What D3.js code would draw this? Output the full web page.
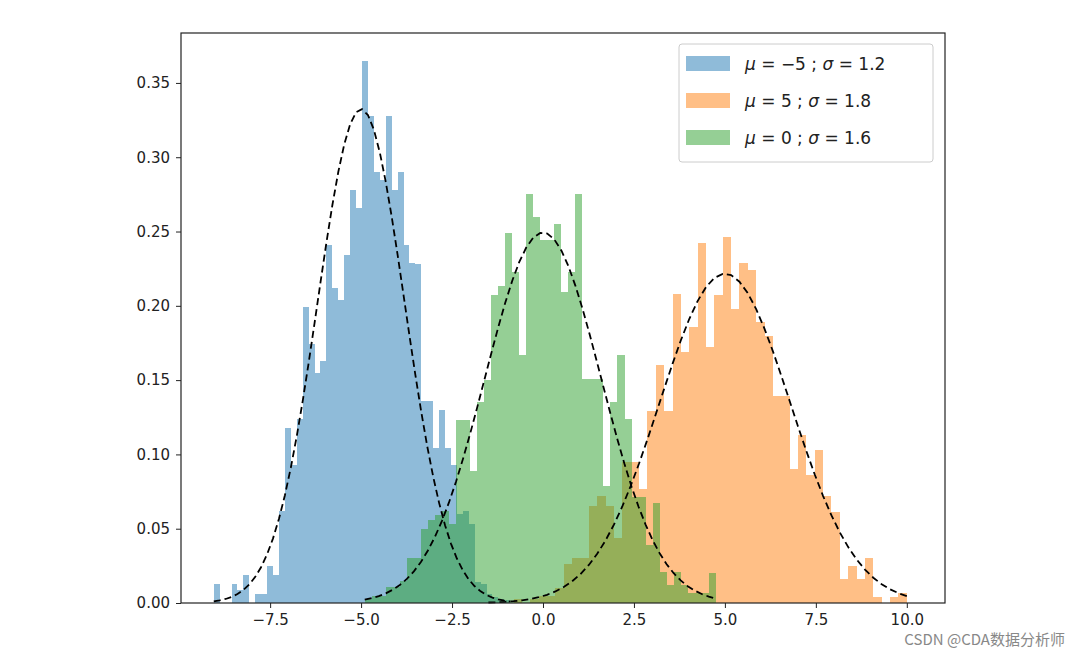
<!DOCTYPE html>
<html><head><meta charset="utf-8">
<script src="https://cdn.jsdelivr.net/npm/d3@7"></script>
<style>body{margin:0;background:#fff}</style>
</head><body>
<svg id="chart" width="1080" height="659"></svg>
<script>
// histogram densities
var blueStart=-9.05, blueWidth=0.163;
var blueVals=[.013,0,0,.013,.009,.019,0,.006,.006,.025,.019,.062,.118,.093,.124,.199,.174,.155,.163,.241,
  .212,.204,.234,.278,.266,.365,.328,.290,.285,.328,.278,.290,.241,.229,.228,.136,.136,.104,.13,.104,
  .093,.060,.062,.053,.014,.013,.006,.004,.003,.002];
var greenStart=-4.9, greenWidth=0.193;
var greenVals=[.003,.005,.005,.011,.011,.015,.030,.030,.05,.056,.059,.062,.053,.123,.123,.089,.135,.150,.207,.213,
  .249,.223,.167,.275,.260,.244,.244,.255,.209,.223,.275,.151,.151,.151,.079,.135,.167,.124,.071,.071,
  .039,.067,.021,.012,.021,.012,.007,.007,.007,.02];
var orangeStart=-1.5, orangeWidth=0.23;
var orangeVals=[0,0,0,.003,0,.003,.005,.005,.01,.026,.03,.03,.065,.072,.065,.044,.095,.095,.077,.129,
  .160,.129,.208,.169,.186,.242,.172,.207,.246,.198,.229,.224,.189,.18,.139,.139,.090,.113,.086,.103,
  .072,.061,.016,.025,.016,.030,.004,0,.004,.007];
var series=[
  {label:["−5","1.2"],mu:-5,sigma:1.2,start:blueStart,width:blueWidth,vals:blueVals,color:"#1f77b4"},
  {label:["5","1.8"],mu:5,sigma:1.8,start:orangeStart,width:orangeWidth,vals:orangeVals,color:"#ff7f0e"},
  {label:["0","1.6"],mu:0,sigma:1.6,start:greenStart,width:greenWidth,vals:greenVals,color:"#2ca02c"}
];
var xTicks=[-7.5,-5,-2.5,0,2.5,5,7.5,10];
var yTicks=[0,0.05,0.1,0.15,0.2,0.25,0.3,0.35];

var L=181,R=945,T=33,B=603;
var svg=d3.select("#chart");
var x=d3.scaleLinear().domain([-9.95,11.05]).range([L,R]);
var y=d3.scaleLinear().domain([0,0.3836]).range([B,T]);
var font="DejaVu Sans, sans-serif";

series.forEach(function(s){
  svg.append("g").attr("fill",s.color).attr("fill-opacity",0.5)
    .selectAll("rect").data(s.vals).enter().append("rect")
    .attr("x",function(d,i){return x(s.start+i*s.width);})
    .attr("width",function(d,i){return x(s.start+(i+1)*s.width)-x(s.start+i*s.width);})
    .attr("y",function(d){return y(d);})
    .attr("height",function(d){return B-y(d);})
    .attr("shape-rendering","crispEdges");
});
series.forEach(function(s){
  var pts=d3.range(s.vals.length+1).map(function(i){
    var v=s.start+i*s.width;
    return [v,Math.exp(-0.5*Math.pow((v-s.mu)/s.sigma,2))/(s.sigma*Math.sqrt(2*Math.PI))];
  });
  svg.append("path").datum(pts).attr("fill","none").attr("stroke","#000")
    .attr("stroke-width",1.8).attr("stroke-dasharray","7,4")
    .attr("d",d3.line().x(function(d){return x(d[0]);}).y(function(d){return y(d[1]);}));
});

var fmtMinus=function(f){return function(d){return f(d).replace("-","−");};};
var gx=svg.append("g").attr("transform","translate(0,"+B+")")
  .call(d3.axisBottom(x).tickValues(xTicks).tickFormat(fmtMinus(d3.format(".1f"))).tickSize(5).tickPadding(6));
var gy=svg.append("g").attr("transform","translate("+L+",0)")
  .call(d3.axisLeft(y).tickValues(yTicks).tickFormat(d3.format(".2f")).tickSize(5).tickPadding(6));
[gx,gy].forEach(function(g){
  g.select(".domain").remove();
  g.selectAll("text").attr("font-family",font).attr("font-size",15).attr("fill","#222");
  g.selectAll("line").attr("stroke","#222");
});
svg.append("rect").attr("x",L).attr("y",T).attr("width",R-L).attr("height",B-T)
  .attr("fill","none").attr("stroke","#222").attr("stroke-width",1.2);

// legend
var lg=svg.append("g");
lg.append("rect").attr("x",679).attr("y",44).attr("width",254).attr("height",118).attr("rx",3)
  .attr("fill","#fff").attr("fill-opacity",0.8).attr("stroke","#ccc");
series.forEach(function(s,i){
  var yy=64+i*37;
  lg.append("rect").attr("x",686).attr("y",yy-8).attr("width",44).attr("height",15)
    .attr("fill",s.color).attr("fill-opacity",0.5);
  var t=lg.append("text").attr("x",745).attr("y",yy+6).attr("font-family",font).attr("font-size",17).attr("fill","#222");
  t.append("tspan").attr("font-style","italic").text("μ");
  t.append("tspan").text(" = "+s.label[0]+" ;  ");
  t.append("tspan").attr("font-style","italic").text("σ");
  t.append("tspan").text(" = "+s.label[1]);
});

svg.append("text").attr("x",1065).attr("y",645).attr("text-anchor","end")
  .attr("font-family","Noto Sans CJK SC, sans-serif").attr("font-size",15).attr("fill","#888")
  .text("CSDN @CDA数据分析师");
</script>
</body></html>
